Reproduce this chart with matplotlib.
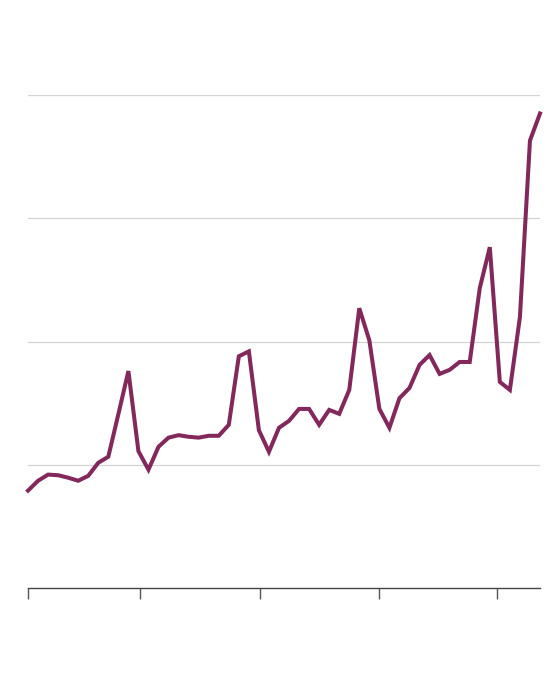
import numpy as np
import matplotlib
matplotlib.use("Agg")
from matplotlib import pyplot as plt

# values (gridlines at 100, 200, 300, 400)
values = [79, 87, 92, 91.5, 89.5, 87, 91, 101.6, 106.5, 141,
          176, 111, 96, 114.6, 122, 124, 122.7, 122, 123.5, 123.5,
          132.4, 188, 192, 128, 110.5, 130, 135.6, 145.3, 145.3, 132.4,
          144.5, 141.3, 160.7, 227, 201, 145.3, 130, 154, 162.3, 181,
          189, 173.7, 177, 183.4, 183.4, 243.3, 276.5, 167.2, 160.7, 219.8,
          363, 385]
tick_pos = [0, 11.15, 23.1, 35, 46.7]
grid_vals = [100, 200, 300, 400]

W, H = 560, 678
fig = plt.figure(figsize=(W / 100, H / 100), dpi=100)
ax = fig.add_axes([28 / W, 1 - 588 / H, (540 - 28) / W, (588 - 95) / H])

x = np.arange(len(values))
ax.plot(x, values, color="#82285a", lw=2.9, solid_joinstyle="miter", zorder=3, clip_on=False)

ax.set_xlim(0, len(values) - 1)
ax.set_ylim(0, 400)
for g in grid_vals:
    ax.axhline(g, color="#d4d4d4", lw=0.9, zorder=1)

for s in ["top", "right", "left"]:
    ax.spines[s].set_visible(False)
ax.spines["bottom"].set_color("#444444")
ax.spines["bottom"].set_linewidth(1.0)
ax.set_yticks([])
ax.set_xticks(tick_pos)
ax.set_xticklabels([])
ax.tick_params(axis="x", length=8, width=1.0, color="#555555")

fig.savefig("out.png", dpi=100, facecolor="white")
